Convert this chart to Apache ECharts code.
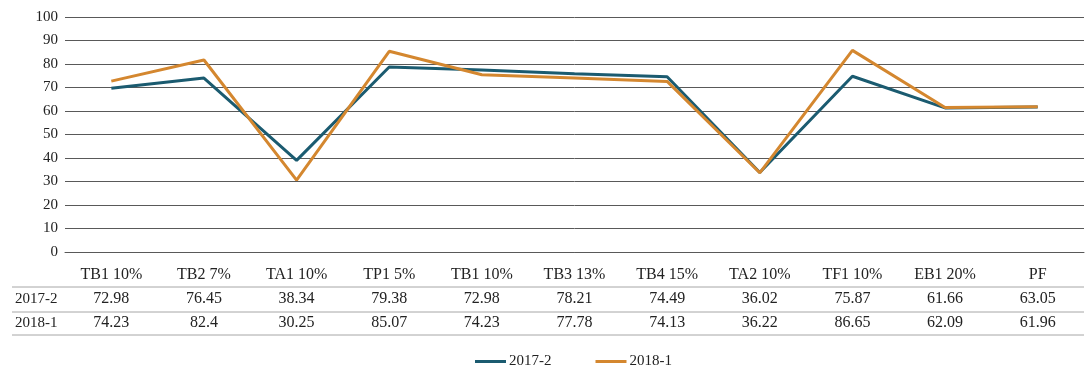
<!DOCTYPE html>
<html>
<head>
<meta charset="utf-8">
<script src="https://cdn.jsdelivr.net/npm/echarts@6/dist/echarts.min.js"></script>
<style>
  html, body { margin: 0; padding: 0; background: #fff; }
  #main { width: 1085px; height: 370px; }
</style>
</head>
<body>
<div id="main"></div>
<script>
// categories along the bottom
const categories = ['TB1 10%', 'TB2 7%', 'TA1 10%', 'TP1 5%', 'TB1 10%', 'TB3 13%', 'TB4 15%', 'TA2 10%', 'TF1 10%', 'EB1 20%', 'PF'];
const seriesNames = ['2017-2', '2018-1'];
// line values as drawn in the picture
const line2017 = [69.7, 74.0, 39.0, 78.7, 77.4, 75.9, 74.6, 33.8, 74.8, 61.3, 61.7];
const line2018 = [72.7, 81.7, 30.6, 85.4, 75.4, 74.0, 72.6, 33.7, 85.8, 61.5, 61.8];
// data table text rows
const table2017 = ['72.98', '76.45', '38.34', '79.38', '72.98', '78.21', '74.49', '36.02', '75.87', '61.66', '63.05'];
const table2018 = ['74.23', '82.4', '30.25', '85.07', '74.23', '77.78', '74.13', '36.22', '86.65', '62.09', '61.96'];

const FONT = '"Liberation Serif", "DejaVu Serif", serif';
const colors = ['#1b5b70', '#d4872f'];

let myChart = echarts.init(document.getElementById('main'));

// one extra category axis per table row, stacked under the plot
function tableAxis(rowData, name, gap) {
	return {
		type: 'category',
		data: rowData,
		position: 'bottom',
		offset: gap,
		axisLine: { show: false },
		axisTick: { show: false },
		axisLabel: {
			margin: 0,
			interval: 0,
			fontFamily: FONT,
			fontSize: 16,
			color: '#222'
		},
		name: name,
		nameLocation: 'start',
		nameGap: 50,
		nameTextStyle: {
			fontFamily: FONT,
			fontSize: 15,
			color: '#222',
			align: 'left',
			verticalAlign: 'top',
			padding: [1, 0, 0, 0]
		}
	}
}

let option = {
	animation: false,
	color: colors,
	textStyle: { fontFamily: FONT },
	grid: {
		left: 65,
		right: 1,
		top: 17,
		bottom: 118
	},
	legend: {
		data: seriesNames,
		left: 470,
		top: 349,
		icon: 'rect',
		itemWidth: 31,
		itemHeight: 3,
		itemGap: 44,
		textStyle: {
			fontFamily: FONT,
			fontSize: 15,
			color: '#222',
			padding: [0, 0, 0, -2]
		}
	},
	xAxis: [{
			type: 'category',
			data: categories,
			boundaryGap: true,
			axisLine: { lineStyle: { color: '#595959', width: 1 } },
			axisTick: { show: false },
			axisLabel: {
				margin: 15,
				interval: 0,
				fontFamily: FONT,
				fontSize: 16,
				color: '#222'
			}
		},
		tableAxis(table2017, seriesNames[0], 39),
		tableAxis(table2018, seriesNames[1], 63)
	],
	yAxis: {
		type: 'value',
		min: 0,
		max: 100,
		interval: 10,
		axisLine: { show: false },
		axisTick: { show: false },
		axisLabel: {
			margin: 7,
			fontFamily: FONT,
			fontSize: 15,
			color: '#222'
		},
		splitLine: { lineStyle: { color: '#595959', width: 1 } }
	},
	// data table rules
	graphic: [287, 312, 335].map(function(y) {
		return {
			type: 'line',
			shape: { x1: 12, y1: y, x2: 1084, y2: y },
			style: { stroke: '#a6a6a6', lineWidth: 1 },
			silent: true
		}
	}),
	series: [{
			name: seriesNames[0],
			type: 'line',
			data: line2017,
			symbol: 'none',
			lineStyle: { width: 3, color: colors[0] }
		},
		{
			name: seriesNames[1],
			type: 'line',
			data: line2018,
			symbol: 'none',
			lineStyle: { width: 3, color: colors[1] }
		}
	]
}
myChart.setOption(option);
</script>
</body>
</html>
